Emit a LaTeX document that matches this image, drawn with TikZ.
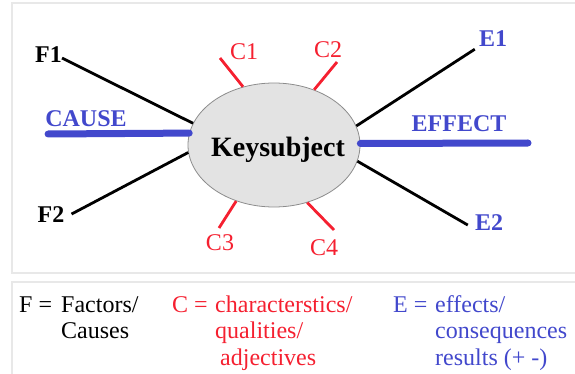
\documentclass[tikz,border=0pt]{standalone}
\usepackage{fontspec}
\setmainfont{Liberation Serif}
\definecolor{causeblue}{RGB}{66,72,204}
\definecolor{charred}{RGB}{245,32,48}
\definecolor{keygray}{RGB}{227,227,227}
\definecolor{panelgray}{RGB}{232,232,232}
\tikzset{
    panel/.style={draw=panelgray, line width=2pt},
    keynode/.style={ellipse, draw=black!45, fill=keygray, line width=0.8pt,
        minimum width=172pt, minimum height=124pt, inner sep=0pt},
    lbl/.style={inner sep=0pt, anchor=base, font=\fontsize{24}{26}\selectfont\bfseries},
    clbl/.style={inner sep=0pt, anchor=base, text=charred, font=\fontsize{24}{26}\selectfont},
    legend/.style={inner sep=0pt, anchor=base west, align=left,
        font=\fontsize{24}{26.6}\selectfont},
    spoke/.style={line width=2.8pt},
    tick/.style={draw=charred, line width=2.8pt},
    bigline/.style={draw=causeblue, line width=7pt, line cap=round}
}
\usetikzlibrary{shapes.geometric}
\begin{document}
\begin{tikzpicture}[x=1pt,y=-1pt]
    \useasboundingbox (0,0) rectangle (575,374);
    \draw[panel] (12,3) rectangle (590,273);
    \draw[panel] (12,282) rectangle (590,390);
    \node[keynode] (key) at (274,145) {};
    \node[lbl] (keytext) at (278,157) {\fontsize{28}{30}\selectfont Keysubject};
    % causes
    \node[lbl] (F1) at (48.5,63) {F1};
    \node[lbl] (F2) at (51,222) {F2};
    \node[lbl, text=causeblue] (cause) at (86,127) {CAUSE};
    \draw[spoke] ([yshift=-3pt]F1.east) -- (key.165);
    \draw[spoke] ([xshift=7pt]F2.east) -- (key.185);
    \draw[bigline] ([xshift=3pt,yshift=-7pt]cause.base west) -- (key.172);
    % characteristics
    \node[clbl] (C1) at (244,60) {C1};
    \node[clbl] (C2) at (328,58) {C2};
    \node[clbl] (C3) at (220,250) {C3};
    \node[clbl] (C4) at (324,255) {C4};
    \coordinate (c1) at (220,58);
    \coordinate (c2) at (337,62);
    \coordinate (c3) at (219,228);
    \coordinate (c4) at (334,230);
    \draw[tick] (c1) -- (key.118);
    \draw[tick] (c2) -- (key.54);
    \draw[tick] (c3) -- (key.236);
    \draw[tick] (c4) -- (key.300);
    % effects
    \node[lbl, text=causeblue] (E1) at (493,47) {E1};
    \node[lbl, text=causeblue] (E2) at (489,230) {E2};
    \node[lbl, text=causeblue] (effect) at (459,132) {EFFECT};
    \coordinate (effend) at (528,143);
    \draw[spoke] (key.13) -- ([xshift=-4pt,yshift=-2pt]E1.south west);
    \draw[spoke] (key.349) -- ([xshift=-7pt,yshift=-3pt]E2.west);
    \draw[bigline] (key.1) -- (effend);
    % legend, base is the last line
    \node[legend] (Fsym) at (19,312) {F =};
    \node[legend] (Fdef) at (61,338.6) {Factors/\\Causes};
    \node[legend, text=charred] (Csym) at (172,312) {C =};
    \node[legend, text=charred] (Cdef) at (215,365.2) {characterstics/\\qualities/\\\hspace*{5pt}adjectives};
    \node[legend, text=causeblue] (Esym) at (393,312) {E =};
    \node[legend, text=causeblue] (Edef) at (435,365.2) {effects/\\consequences\\results (+ -)};
\end{tikzpicture}
\end{document}
